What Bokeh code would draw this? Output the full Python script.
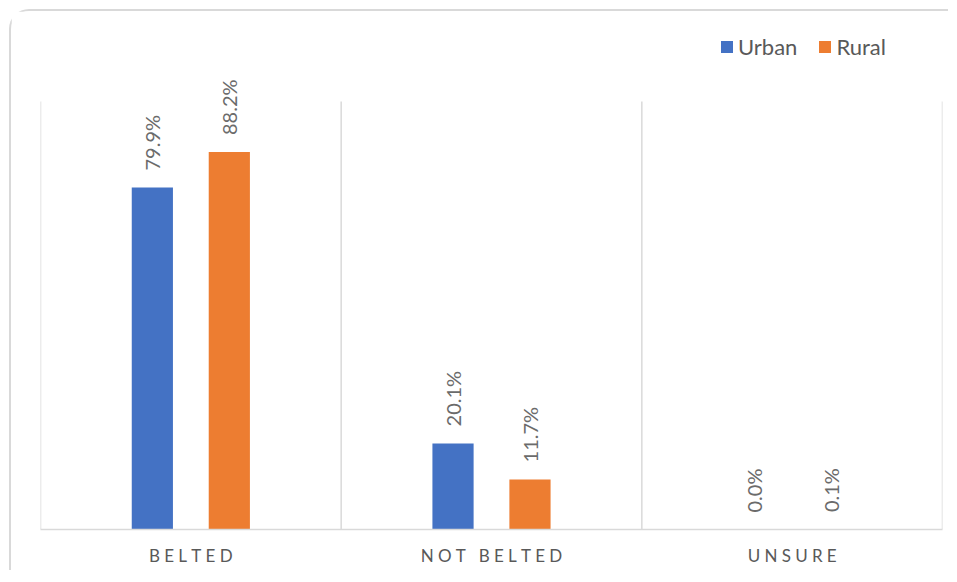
import math
from bokeh.plotting import figure
from bokeh.models import Range1d, FixedTicker, ColumnDataSource, Legend, LegendItem
from bokeh.transform import dodge
from bokeh.core.properties import value
from bokeh.embed import file_html
from bokeh.resources import INLINE

# ---- data ----
categories = ["BELTED", "NOT BELTED", "UNSURE"]
urban = [79.9, 20.1, 0.0]
rural = [88.2, 11.7, 0.1]
series_names = ["Urban", "Rural"]
series_colors = ["#4472C4", "#ED7D31"]

FONT = "Lato"
GRAY = "#595959"
LINE = "#d9d9d9"

# layout constants (pixels)
FRAME_TOP, PLOT_TOP, FRAME_BOTTOM = 20, 101, 529
Y_END = 100 * (FRAME_BOTTOM - FRAME_TOP) / (FRAME_BOTTOM - PLOT_TOP)

n = len(categories)
src = ColumnDataSource(dict(
    x=[i + 0.5 for i in range(n)],
    urban=urban,
    rural=rural,
    urban_lbl=[f"{v:.1f}%" for v in urban],
    rural_lbl=[f"{v:.1f}%" for v in rural],
))

p = figure(width=939, height=561, output_backend="svg", toolbar_location=None,
           x_range=Range1d(0, n), y_range=Range1d(0, Y_END),
           y_axis_location=None,
           min_border_left=29, min_border_right=8, min_border_top=9, min_border_bottom=43)
p.styles = {"border-left": f"2px solid {LINE}", "border-top": f"2px solid {LINE}",
            "border-top-left-radius": "20px", "margin-left": "9px", "margin-top": "9px"}
p.outline_line_color = None
p.background_fill_color = "white"
p.border_fill_color = "white"
p.xgrid.visible = False
p.ygrid.visible = False

# category separators
bounds = list(range(n + 1))
p.segment(x0=bounds, y0=[0] * len(bounds), x1=bounds, y1=[100] * len(bounds),
          line_color=LINE, line_width=1.5)

# x axis
ax = p.xaxis[0]
ax.ticker = FixedTicker(ticks=[i + 0.5 for i in range(n)])
ax.major_label_overrides = {i + 0.5: "\u2009\u2009".join(list(c.replace(" ", "\u00a0")))
                            for i, c in enumerate(categories)}
ax.major_tick_line_color = None
ax.minor_tick_line_color = None
ax.axis_line_color = LINE
ax.axis_line_width = 1.5
ax.major_label_text_font = FONT
ax.major_label_text_font_size = "17px"
ax.major_label_text_color = GRAY
ax.major_label_standoff = 9

off = 0.128
bw = 0.137
r1 = p.vbar(x=dodge("x", -off, range=p.x_range), top="urban", width=bw, source=src,
            fill_color=series_colors[0], line_color=None)
r2 = p.vbar(x=dodge("x", off, range=p.x_range), top="rural", width=bw, source=src,
            fill_color=series_colors[1], line_color=None)

for col, lbl, o in [("urban", "urban_lbl", -off), ("rural", "rural_lbl", off)]:
    p.text(x=dodge("x", o, range=p.x_range), y=col, text=lbl, source=src,
           angle=math.pi / 2, text_align="left", text_baseline="middle",
           y_offset=-17, text_font=value(FONT), text_font_size="20px",
           text_color="#6b6b6b")

legend = Legend(items=[LegendItem(label=series_names[0], renderers=[r1]),
                       LegendItem(label=series_names[1], renderers=[r2])],
                orientation="horizontal", location=(679, 469))
legend.border_line_color = None
legend.background_fill_alpha = 0
legend.padding = 0
legend.margin = 0
legend.spacing = 20
legend.glyph_width = 15
legend.glyph_height = 15
legend.label_standoff = 4
legend.label_text_font = FONT
legend.label_text_font_size = "22px"
legend.label_text_color = GRAY
p.add_layout(legend)

open("out.html", "w").write(file_html(p, INLINE))
